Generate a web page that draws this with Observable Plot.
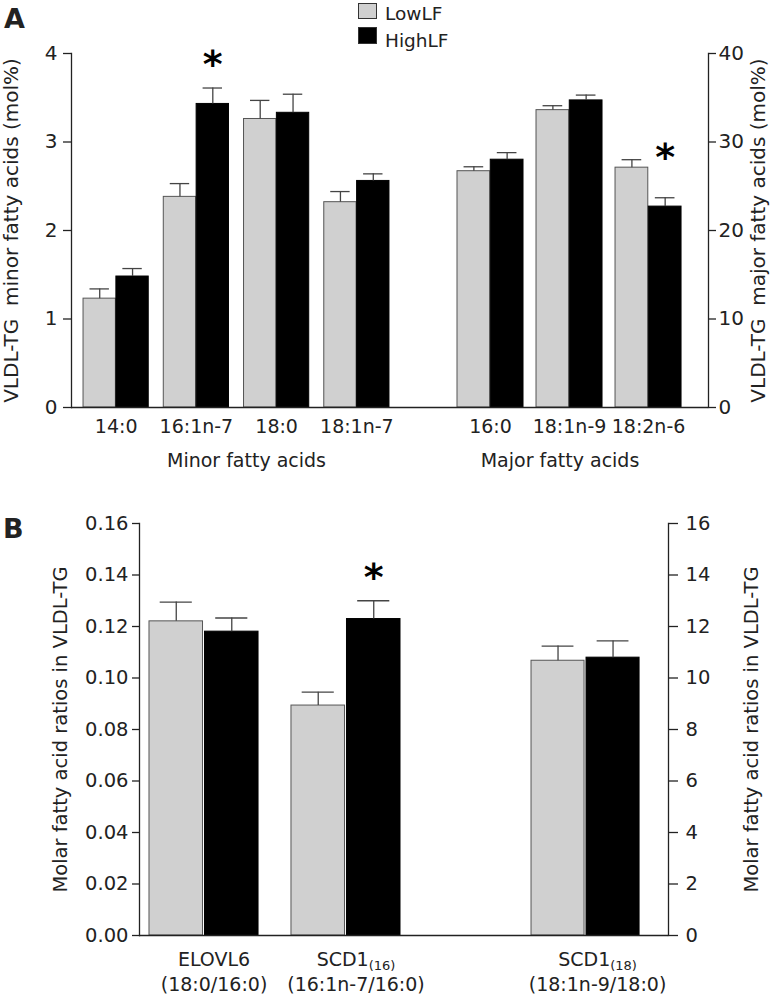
<!DOCTYPE html>
<html><head><meta charset="utf-8">
<script src="https://cdn.jsdelivr.net/npm/d3@7"></script>
<script src="https://cdn.jsdelivr.net/npm/@observablehq/plot@0.6"></script>
<style>
body{margin:0;background:#fff;font-family:"DejaVu Sans",sans-serif;}
#fig{position:relative;width:784px;height:997px;overflow:hidden;background:#fff;color:#222;}
#fig svg{position:absolute;overflow:visible;background:transparent;}
.panel{position:absolute;font-weight:bold;font-size:27px;line-height:1;}
.sw{position:absolute;width:19px;box-sizing:border-box;border:1.5px solid #333;}
.lg{position:absolute;font-size:18.5px;line-height:1;}
</style></head><body><div id="fig"></div><script>
// ---------- data ----------
const seriesNames = ["LowLF", "HighLF"];

const minorAcids   = ["14:0", "16:1n-7", "18:0", "18:1n-7"];
const minorLow     = [1.23, 2.38, 3.26, 2.32];
const minorLowErr  = [0.11, 0.15, 0.21, 0.12];
const minorHigh    = [1.48, 3.43, 3.33, 2.56];
const minorHighErr = [0.09, 0.18, 0.21, 0.08];
const minorTicks   = [0, 1, 2, 3, 4];
const minorStars   = ["16:1n-7"];
const minorStarY   = [3.93];

const majorAcids   = ["16:0", "18:1n-9", "18:2n-6"];
const majorLow     = [26.7, 33.6, 27.1];
const majorLowErr  = [0.5, 0.5, 0.9];
const majorHigh    = [28.0, 34.7, 22.7];
const majorHighErr = [0.8, 0.6, 1.0];
const majorTicks   = [0, 10, 20, 30, 40];
const majorStars   = ["18:2n-6"];
const majorStarY   = [28.8];

const ratioKeys    = ["ELOVL6", "SCD1(16)"];
const ratioDefs    = ["(18:0/16:0)", "(16:1n-7/16:0)"];
const ratioLow     = [0.122, 0.0893];
const ratioLowErr  = [0.0075, 0.0052];
const ratioHigh    = [0.118, 0.1229];
const ratioHighErr = [0.0053, 0.0071];
const ratioTicks   = [0, 0.02, 0.04, 0.06, 0.08, 0.10, 0.12, 0.14, 0.16];
const ratioStars   = ["SCD1(16)"];
const ratioStarY   = [0.141];

const scdKeys      = ["SCD1(18)"];
const scdDefs      = ["(18:1n-9/18:0)"];
const scdLow       = [10.67];
const scdLowErr    = [0.57];
const scdHigh      = [10.79];
const scdHighErr   = [0.65];
const scdTicks     = [0, 2, 4, 6, 8, 10, 12, 14, 16];

// ---------- styling ----------
const GRAY = "#d0d0d0", GRAY_EDGE = "#555", INK = "#222", ERR = "#444";
const CAP = 0.6;
const FONT = "DejaVu Sans, sans-serif";
const fig = document.getElementById("fig");

function rows(cats, v, e) { return cats.map((c, i) => ({cat: c, value: v[i], top: v[i] + e[i]})); }

function chart(o) {
  const band = d3.scaleBand().domain(o.cats)
    .range([o.marginLeft, o.width - o.marginRight])
    .paddingInner(o.pi).paddingOuter(o.po).align(o.align);
  const half = band.bandwidth() / 2, g = o.gap / 2;
  const cap = (half - g) * (1 - CAP) / 2;
  const lo = rows(o.cats, o.low, o.lowErr), hi = rows(o.cats, o.high, o.highErr);
  const stars = o.stars.map((c, i) => ({cat: c, y: o.starY[i]}));
  const svg = Plot.plot({
    width: o.width, height: o.height,
    marginLeft: o.marginLeft, marginRight: o.marginRight,
    marginTop: o.marginTop, marginBottom: o.marginBottom,
    style: {fontFamily: FONT, fontSize: "19px", color: INK, background: "transparent", overflow: "visible"},
    x: {type: "band", domain: o.cats, paddingInner: o.pi, paddingOuter: o.po, align: o.align, round: false},
    y: {domain: o.yDomain},
    marks: [
      Plot.barY(lo, {x: "cat", y: "value", fill: GRAY, stroke: GRAY_EDGE, strokeWidth: 1, insetRight: half + g}),
      Plot.barY(hi, {x: "cat", y: "value", fill: "#000", stroke: "#000", strokeWidth: 1, insetLeft: half + g}),
      Plot.ruleX(lo, {x: "cat", y1: "value", y2: "top", dx: -(half + g) / 2, stroke: ERR, strokeWidth: 1.3}),
      Plot.ruleX(hi, {x: "cat", y1: "value", y2: "top", dx: (half + g) / 2, stroke: ERR, strokeWidth: 1.3}),
      Plot.tickY(lo, {x: "cat", y: "top", insetLeft: cap, insetRight: half + g + cap, stroke: ERR, strokeWidth: 1.3}),
      Plot.tickY(hi, {x: "cat", y: "top", insetLeft: half + g + cap, insetRight: cap, stroke: ERR, strokeWidth: 1.3}),
      Plot.ruleY([0], {stroke: INK, strokeWidth: 1.3}),
      Plot.frame({anchor: o.yAnchor, stroke: INK, strokeWidth: 1.3}),
      Plot.text(stars, {x: "cat", y: "y", text: () => "*", dx: (half + g) / 2, dy: 5, fontSize: 38, fontWeight: "bold", fill: "#000"}),
      Plot.axisY({anchor: o.yAnchor, ticks: o.yTicks, tickFormat: o.yFormat, tickSize: o.tickSize, tickPadding: o.tickPadding,
        fontSize: o.yFontSize, label: o.yLabel, labelAnchor: "center", labelOffset: o.yLabelOffset, labelArrow: "none",
        stroke: INK, strokeWidth: 1.3}),
      Plot.axisX({anchor: "bottom", tickSize: 0, tickPadding: o.xTickPadding, tickFormat: o.xFormat, lineHeight: o.lineHeight || 1,
        dx: o.xdx || 0, label: null}),
      o.xLabel ? Plot.text([o.xLabel], {frameAnchor: "bottom", lineAnchor: "top", dx: o.xLabelDx, dy: o.xLabelDy, fontSize: 19, fill: INK}) : null
    ]
  });
  svg.style.left = o.left + "px";
  svg.style.top = o.top + "px";
  fig.appendChild(svg);
  return svg;
}

// ---------- Panel A ----------
chart({cats: minorAcids, low: minorLow, lowErr: minorLowErr, high: minorHigh, highErr: minorHighErr,
  stars: minorStars, starY: minorStarY,
  left: 0, top: 0, width: 401, height: 479, marginLeft: 71, marginRight: 0, marginTop: 53, marginBottom: 72,
  pi: 0.1875, po: 0.15, align: 0.5, gap: 0.5,
  yDomain: [0, 4], yTicks: minorTicks, yFormat: d3.format("d"), yAnchor: "left", tickSize: 8, tickPadding: 6, yFontSize: 20,
  yLabel: "VLDL-TG  minor fatty acids (mol%)", yLabelOffset: 68,
  xTickPadding: 12, xLabel: "Minor fatty acids", xLabelDx: 10, xLabelDy: 46});

chart({cats: majorAcids, low: majorLow, lowErr: majorLowErr, high: majorHigh, highErr: majorHighErr,
  stars: majorStars, starY: majorStarY,
  left: 401, top: 0, width: 383, height: 479, marginLeft: 0, marginRight: 76, marginTop: 53, marginBottom: 72,
  pi: 0.1646, po: 0.525, align: 0.675, gap: 0.5,
  yDomain: [0, 40], yTicks: majorTicks, yFormat: d3.format("d"), yAnchor: "right", tickSize: 7, tickPadding: 3, yFontSize: 20,
  yLabel: "VLDL-TG  major fatty acids (mol%)", yLabelOffset: 56,
  xTickPadding: 12, xLabel: "Major fatty acids", xLabelDx: 5, xLabelDy: 46});

// ---------- Panel B ----------
const defOf = new Map([...ratioKeys.map((k, i) => [k, ratioDefs[i]]), ...scdKeys.map((k, i) => [k, scdDefs[i]])]);
const twoLine = d => d + "\n" + defOf.get(d);

chart({cats: ratioKeys, low: ratioLow, lowErr: ratioLowErr, high: ratioHigh, highErr: ratioHighErr,
  stars: ratioStars, starY: ratioStarY,
  left: 0, top: 478, width: 410, height: 517, marginLeft: 139, marginRight: 0, marginTop: 45, marginBottom: 60,
  pi: 0.232, po: 0.0704, align: 0.5, gap: 2,
  yDomain: [0, 0.16], yTicks: ratioTicks, yFormat: d3.format(".2f"), yAnchor: "left", tickSize: 7, tickPadding: 4, yFontSize: 19.5,
  yLabel: "Molar fatty acid ratios in VLDL-TG", yLabelOffset: 86,
  xTickPadding: 12, xFormat: twoLine, lineHeight: 1.35, xdx: 10});

chart({cats: scdKeys, low: scdLow, lowErr: scdLowErr, high: scdHigh, highErr: scdHighErr,
  stars: [], starY: [],
  left: 410, top: 478, width: 374, height: 517, marginLeft: 0, marginRight: 116, marginTop: 45, marginBottom: 60,
  pi: 0, po: 0.694, align: 0.807, gap: 2,
  yDomain: [0, 16], yTicks: scdTicks, yFormat: d3.format("d"), yAnchor: "right", tickSize: 9, tickPadding: 8, yFontSize: 19.5,
  yLabel: "Molar fatty acid ratios in VLDL-TG", yLabelOffset: 89,
  xTickPadding: 12, xFormat: twoLine, lineHeight: 1.35, xdx: 12});

// subscripts for SCD1(16) / SCD1(18)
fig.querySelectorAll("tspan, text").forEach(el => {
  if (el.children.length) return;
  const m = /^(SCD1)\((\d+)\)$/.exec(el.textContent);
  if (!m) return;
  el.textContent = m[1];
  const sub = document.createElementNS("http://www.w3.org/2000/svg", "tspan");
  sub.setAttribute("font-size", "13");
  sub.style.baselineShift = "-4px";
  sub.textContent = "(" + m[2] + ")";
  el.appendChild(sub);
});

// ---------- panel letters & legend ----------
function html(cls, text, css) { const d = document.createElement("div"); d.className = cls; d.textContent = text; Object.assign(d.style, css); fig.appendChild(d); return d; }
html("panel", "A", {left: "4px", top: "5px"});
html("panel", "B", {left: "3px", top: "515px"});
[GRAY, "#000"].forEach((c, i) => {
  html("sw", "", {left: "358px", top: (3 + i * 24) + "px", height: (16 + i) + "px", background: c});
  html("lg", seriesNames[i], {left: "385px", top: (5 + i * 27) + "px"});
});
</script></body></html>
